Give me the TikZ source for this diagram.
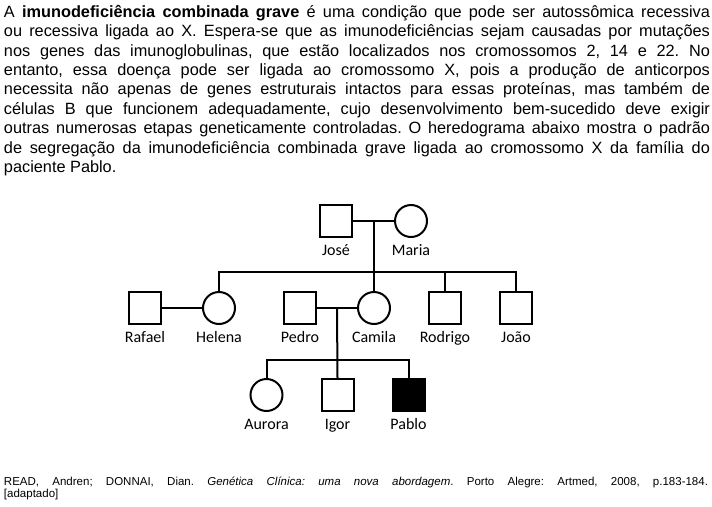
\documentclass[tikz,border=0pt]{standalone}
\usepackage{fontspec}
\setmainfont{Liberation Sans}
\newfontfamily\namefont{Carlito}
\usetikzlibrary{positioning}
\frenchspacing

\begin{document}
\begin{tikzpicture}[x=1pt,y=-1pt,line width=2pt,node distance=71pt,
  male/.style={draw,rectangle,minimum size=32pt,inner sep=0pt},
  female/.style={draw,circle,minimum size=32pt,inner sep=0pt},
  affected/.style={fill=black},
  namelabel/.style={font=\namefont\fontsize{16}{16}\selectfont,inner sep=0pt,text height=10.5pt,text depth=3pt},
  every label/.style={namelabel},label distance=5.8pt,
  prose/.style={anchor=base west,inner sep=0pt,align=justify}]
\fill[white] (0,0) rectangle (712,506);
\useasboundingbox (0,0) rectangle (712,506);

% text above
\node[prose,text width=706pt,font=\fontsize{16.3}{19.4}\selectfont] (intro) at (3,17.3) {A \textbf{imunodeficiência combinada grave} é uma condição que pode ser autossômica recessiva\linebreak
ou recessiva ligada ao X. Espera-se que as imunodeficiências sejam causadas por mutações\linebreak
nos genes das imunoglobulinas, que estão localizados nos cromossomos 2, 14 e 22. No\linebreak
entanto, essa doença pode ser ligada ao cromossomo X, pois a produção de anticorpos\linebreak
necessita não apenas de genes estruturais intactos para essas proteínas, mas também de\linebreak
células B que funcionem adequadamente, cujo desenvolvimento bem-sucedido deve exigir\linebreak
outras numerosas etapas geneticamente controladas. O heredograma abaixo mostra o padrão\linebreak
de segregação da imunodeficiência combinada grave ligada ao cromossomo X da família do\linebreak
paciente Pablo.};

% generation I
\node[male,label=below:José] (jose) at (336,221) {};
\node[female,label=below:Maria] (maria) [node distance=75pt,right of=jose] {};

% generation II
\node[male,label=below:Rafael] (rafael) at (145,308) {};
\node[female,label=below:Helena] (helena) [node distance=74pt,right of=rafael] {};
\node[male,label=below:Pedro] (pedro) at (300,308) {};
\node[female,label=below:Camila] (camila) [node distance=74pt,right of=pedro] {};
\node[male,label=below:Rodrigo] (rodrigo) [right of=camila] {};
\node[male,label=below:João] (joao) [right of=rodrigo] {};

% generation III
\node[female,label=below:Aurora] (aurora) at (266.5,395) {};
\node[male,label=below:Igor] (igor) [right of=aurora] {};
\node[male,affected,label=below:Pablo] (pablo) [right of=igor] {};

% couples and children
\draw (jose) -- coordinate[midway] (jm) (maria);
\coordinate[below=51pt of jm] (jmkids);
\draw (jm) -- (jmkids);
\draw (helena.north) |- (jmkids) -| (joao.north);
\draw (camila.north) -- (camila.north |- jmkids);
\draw (rodrigo.north) -- (rodrigo.north |- jmkids);

\draw (rafael) -- (helena);

\draw (pedro) -- coordinate[midway] (pc) (camila);
\coordinate[below=52pt of pc] (pckids);
\draw (pc) -- (igor.north);
\draw (aurora.north) |- (pckids) -| (pablo.north);

% source
\node[prose,text width=704pt,font=\fontsize{11.5}{12.5}\selectfont] (source) at (3,485) {READ, Andren; DONNAI, Dian. \textit{Genética Clínica: uma nova abordagem}. Porto Alegre: Artmed, 2008, p.183-184.\linebreak{}
[adaptado]};
\end{tikzpicture}
\end{document}
